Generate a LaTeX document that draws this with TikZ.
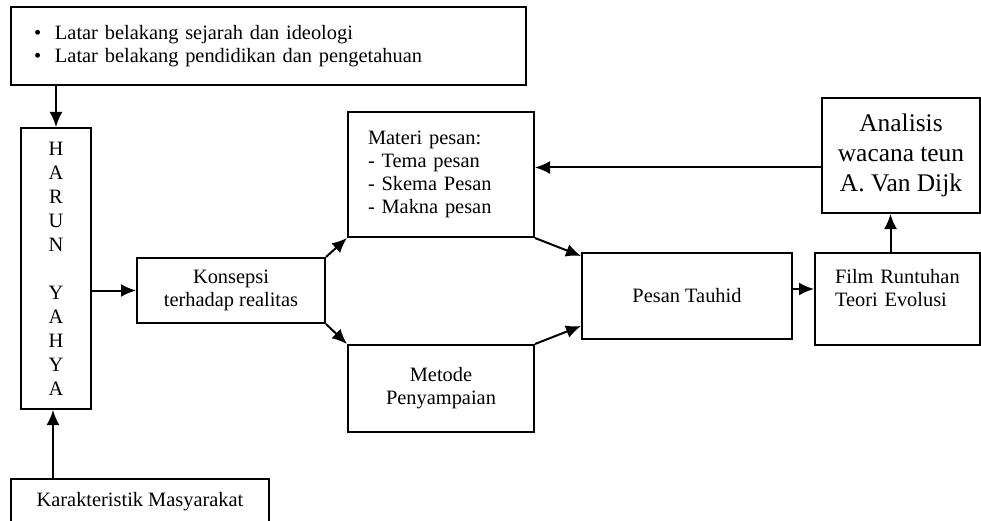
\documentclass[tikz,border=0pt]{standalone}
\usepackage{fontspec}
\setmainfont{Liberation Serif}
\usepackage{tikz}
\usetikzlibrary{positioning,arrows.meta,calc}

\begin{document}
\begin{tikzpicture}[x=1pt,y=-1pt,
    kotak/.style={draw, line width=2pt, rectangle, inner sep=0pt, font=\fontsize{20.4}{23}\selectfont},
    panah/.style={line width=2pt, -{Latex[length=15pt,width=13pt]}}]
    \useasboundingbox (0,0) rectangle (981,521);
    % kotak latar belakang di atas
    \node[kotak, minimum width=515pt, minimum height=78pt, text width=469pt, align=left](latar) at (268.5,46)
        {\makebox[21pt][l]{\textbullet}Latar belakang sejarah dan ideologi\\
         \makebox[21pt][l]{\textbullet}Latar belakang pendidikan dan pengetahuan};
    \node[kotak, minimum width=70pt, minimum height=281pt, align=center, font=\fontsize{20.4}{24}\selectfont](harun) at (56,268.5)
        {H\\A\\R\\U\\N\\[24pt]Y\\A\\H\\Y\\A};
    \draw[panah](harun.north |- latar.south)--(harun.north);
    \node[kotak, minimum width=258pt, minimum height=46pt](karakter) at (140,502){Karakteristik Masyarakat};
    \draw[panah]([xshift=-3pt]harun.south |- karakter.north)--([xshift=-3pt]harun.south);
    \node[kotak, minimum width=188pt, minimum height=65pt, align=center](konsepsi) at (231,290.5){Konsepsi\\terhadap realitas};
    \draw[panah](konsepsi.west -| harun.east)--(konsepsi.west);
    \node[kotak, minimum width=186pt, minimum height=125pt, text width=146pt, inner xsep=20pt, align=left](materi) at (441,174.5)
        {Materi pesan:\\- Tema pesan\\- Skema Pesan\\- Makna pesan};
    \node[kotak, minimum width=186pt, minimum height=87pt, align=center](metode) at (441,388.5){Metode\\Penyampaian};
    \draw[panah](konsepsi.north east)--(materi.south west);
    \draw[panah](konsepsi.south east)--(metode.north west);
    \node[kotak, minimum width=210pt, minimum height=86pt](pesan) at (687,296){Pesan Tauhid};
    \draw[panah](materi.south east)--([yshift=-4pt]pesan.north west);
    \draw[panah](metode.north east)--([yshift=14pt]pesan.south west);
    \node[kotak, minimum width=165pt, minimum height=92pt, text width=125pt, inner xsep=20pt, align=left](film) at (897.5,299)
        {Film Runtuhan\\Teori Evolusi\\\mbox{}};
    \draw[panah]([yshift=7pt]pesan.east)--([yshift=7pt]pesan.east -| film.west);
    \node[kotak, minimum width=158pt, minimum height=115pt, align=center, font=\fontsize{25.4}{30}\selectfont](analisis) at (901,155.5)
        {Analisis\\wacana teun\\A. Van Dijk};
    \draw[panah]([xshift=-7pt]film.north)--([xshift=-7pt]film.north |- analisis.south);
    \draw[panah]([yshift=-12pt]analisis.west)--([yshift=-12pt]analisis.west -| materi.east);
\end{tikzpicture}
\end{document}
